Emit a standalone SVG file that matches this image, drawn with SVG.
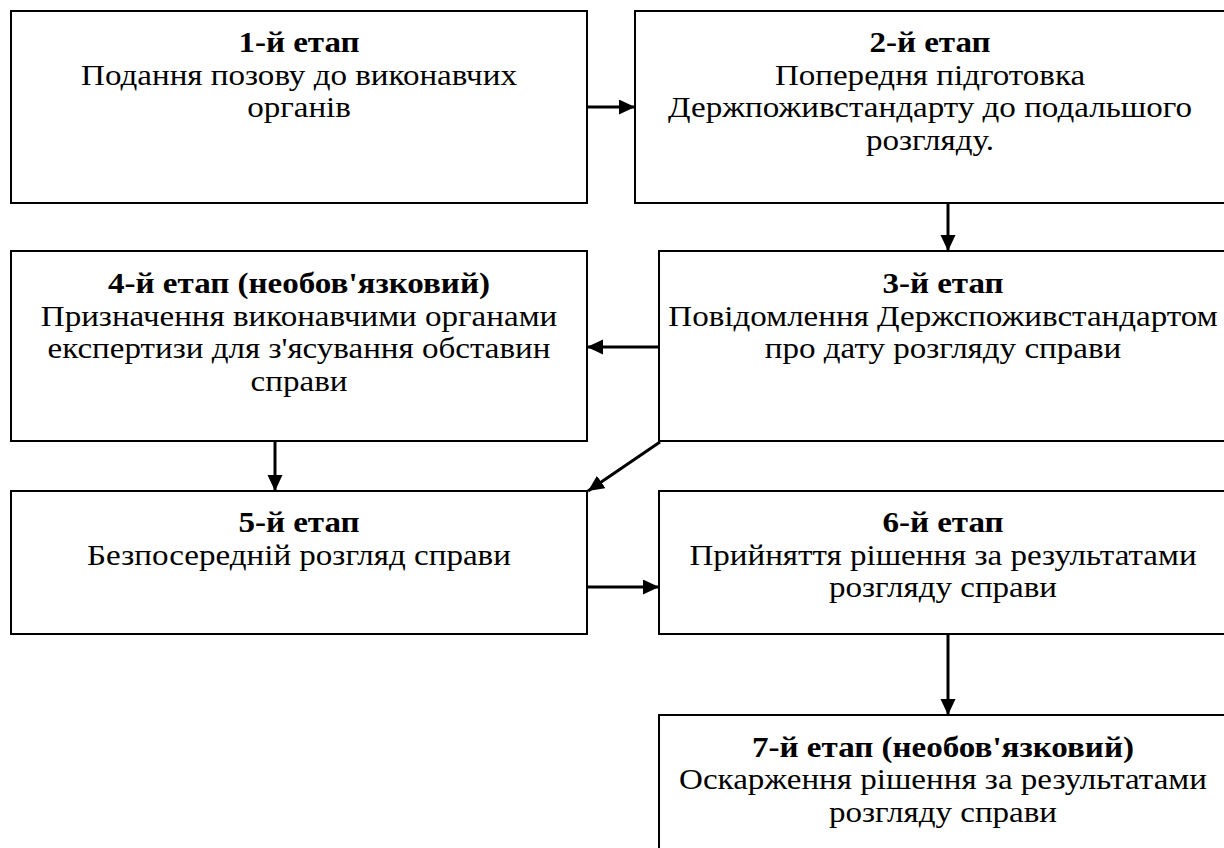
<svg xmlns="http://www.w3.org/2000/svg" width="1224" height="848" viewBox="0 0 1224 848">
  <style>
    .box { fill: #ffffff; stroke: #000000; stroke-width: 2; }
    .t { font-size: 29px; fill: #000000; text-anchor: middle; }
    .b { font-weight: bold; }
    .conn { stroke: #000000; stroke-width: 3; fill: none; marker-end: url(#arrow); }
  </style>
  <defs>
    <marker id="arrow" markerUnits="userSpaceOnUse" markerWidth="17" markerHeight="16" refX="16" refY="7.5" orient="auto">
      <path d="M0,0 L16,7.5 L0,15 z" fill="#000000"/>
    </marker>
  </defs>
  <rect width="1224" height="848" fill="#ffffff"/>

  <g font-family="Liberation Serif, Times New Roman, DejaVu Serif, serif">
  <g id="stage1">
    <rect class="box" x="11" y="11" width="576" height="192"/>
    <g transform="translate(299 0) scale(1.14 1)">
      <text class="t b" x="0" y="52">1-й етап</text>
      <text class="t" x="0" y="85">Подання позову до виконавчих</text>
      <text class="t" x="0" y="117">органів</text>
    </g>
  </g>

  <g id="stage2">
    <rect class="box" x="635" y="11" width="592" height="192"/>
    <g transform="translate(930 0) scale(1.14 1)">
      <text class="t b" x="0" y="52">2-й етап</text>
      <text class="t" x="0" y="85">Попередня підготовка</text>
      <text class="t" x="0" y="117">Держпоживстандарту до подальшого</text>
      <text class="t" x="0" y="150">розгляду.</text>
    </g>
  </g>

  <g id="stage3">
    <rect class="box" x="659" y="251" width="568" height="190"/>
    <g transform="translate(943 0) scale(1.14 1)">
      <text class="t b" x="0" y="293">3-й етап</text>
      <text class="t" x="0" y="326">Повідомлення Держспоживстандартом</text>
      <text class="t" x="0" y="358">про дату розгляду справи</text>
    </g>
  </g>

  <g id="stage4">
    <rect class="box" x="11" y="251" width="576" height="190"/>
    <g transform="translate(299 0) scale(1.14 1)">
      <text class="t b" x="0" y="293">4-й етап (необов'язковий)</text>
      <text class="t" x="0" y="326">Призначення виконавчими органами</text>
      <text class="t" x="0" y="358">експертизи для з'ясування обставин</text>
      <text class="t" x="0" y="391">справи</text>
    </g>
  </g>

  <g id="stage5">
    <rect class="box" x="11" y="491" width="576" height="143"/>
    <g transform="translate(299 0) scale(1.14 1)">
      <text class="t b" x="0" y="532">5-й етап</text>
      <text class="t" x="0" y="565">Безпосередній розгляд справи</text>
    </g>
  </g>

  <g id="stage6">
    <rect class="box" x="659" y="491" width="568" height="143"/>
    <g transform="translate(943 0) scale(1.14 1)">
      <text class="t b" x="0" y="532">6-й етап</text>
      <text class="t" x="0" y="565">Прийняття рішення за результатами</text>
      <text class="t" x="0" y="597">розгляду справи</text>
    </g>
  </g>

  <g id="stage7">
    <rect class="box" x="659" y="715" width="568" height="150"/>
    <g transform="translate(943 0) scale(1.14 1)">
      <text class="t b" x="0" y="757">7-й етап (необов'язковий)</text>
      <text class="t" x="0" y="789">Оскарження рішення за результатами</text>
      <text class="t" x="0" y="822">розгляду справи</text>
    </g>
  </g>
  </g>

  <g id="connectors">
    <line class="conn" x1="587" y1="107" x2="635" y2="107"/>
    <line class="conn" x1="948" y1="203" x2="948" y2="251"/>
    <line class="conn" x1="659" y1="347" x2="587" y2="347"/>
    <line class="conn" x1="660" y1="442" x2="588" y2="491"/>
    <line class="conn" x1="275" y1="441" x2="275" y2="491"/>
    <line class="conn" x1="587" y1="587" x2="659" y2="587"/>
    <line class="conn" x1="948" y1="634" x2="948" y2="715"/>
  </g>
</svg>
